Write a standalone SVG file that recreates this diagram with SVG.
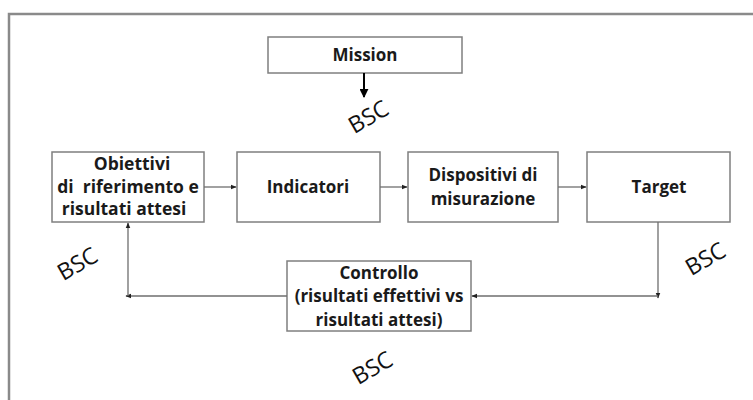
<svg xmlns="http://www.w3.org/2000/svg" width="753" height="400" viewBox="0 0 753 400">
<style>
.box{fill:#fff;stroke:#7f7f7f;stroke-width:1.5}
.t{font-family:"Open Sans","Liberation Sans",sans-serif;font-weight:bold;font-size:17px;fill:#1a1a1a;text-anchor:middle}
.w{font-size:17.5px}
.bsc{font-family:"Open Sans","Liberation Sans",sans-serif;font-size:23px;fill:#111;text-anchor:middle;dominant-baseline:central}
.c{stroke:#6e6e6e;stroke-width:1.3;fill:none;marker-end:url(#ah)}
</style>
<defs>
<marker id="ah" viewBox="0 0 10 10" refX="9" refY="5" markerWidth="6" markerHeight="6" markerUnits="userSpaceOnUse" orient="auto">
<path d="M0,1 L10,5 L0,9 Z" fill="#222"/>
</marker>
<marker id="ahb" viewBox="0 0 10 10" refX="9" refY="5" markerWidth="9" markerHeight="9" markerUnits="userSpaceOnUse" orient="auto">
<path d="M0,0 L10,5 L0,10 Z" fill="#000"/>
</marker>
</defs>
<rect width="753" height="400" fill="#fff"/>
<path d="M9,400 V14 H753" fill="none" stroke="#8a8a8a" stroke-width="2.5"/>

<g id="mission">
<rect class="box" x="268" y="37" width="194" height="36"/>
<text class="t" x="365" y="61">Mission</text>
</g>
<g id="obiettivi">
<rect class="box" x="52" y="152" width="152" height="70"/>
<text class="t w" x="132" y="170">Obiettivi</text>
<text class="t w" x="128" y="193" xml:space="preserve">di  riferimento e</text>
<text class="t w" x="124" y="215">risultati attesi</text>
</g>
<g id="indicatori">
<rect class="box" x="237" y="152" width="143" height="70"/>
<text class="t" x="308" y="193">Indicatori</text>
</g>
<g id="dispositivi">
<rect class="box" x="408" y="152" width="150" height="70"/>
<text class="t" x="483" y="181">Dispositivi di</text>
<text class="t" x="483" y="205">misurazione</text>
</g>
<g id="target">
<rect class="box" x="587" y="152" width="143" height="70"/>
<text class="t" x="659" y="193">Target</text>
</g>
<g id="controllo">
<rect class="box" x="287" y="261" width="184" height="70"/>
<text class="t" x="379" y="279">Controllo</text>
<text class="t" x="379" y="302">(risultati effettivi vs</text>
<text class="t" x="379" y="326">risultati attesi)</text>
</g>
<g id="bsc-labels">
<text class="bsc" transform="translate(368,116) rotate(-30)">BSC</text>
<text class="bsc" transform="translate(77,263) rotate(-30)">BSC</text>
<text class="bsc" transform="translate(705,258) rotate(-30)">BSC</text>
<text class="bsc" transform="translate(372,367) rotate(-30)">BSC</text>
</g>
<g id="connectors">
<line x1="364" y1="73" x2="364" y2="97" stroke="#000" stroke-width="2" marker-end="url(#ahb)"/>
<line class="c" x1="204" y1="187" x2="236" y2="187"/>
<line class="c" x1="380" y1="187" x2="407" y2="187"/>
<line class="c" x1="558" y1="187" x2="586" y2="187"/>
<line class="c" x1="658" y1="222" x2="658" y2="298"/>
<line class="c" x1="658" y1="296" x2="472" y2="296"/>
<line class="c" x1="287" y1="296" x2="126" y2="296"/>
<line class="c" x1="128" y1="296" x2="128" y2="223"/>
</g>
</svg>
